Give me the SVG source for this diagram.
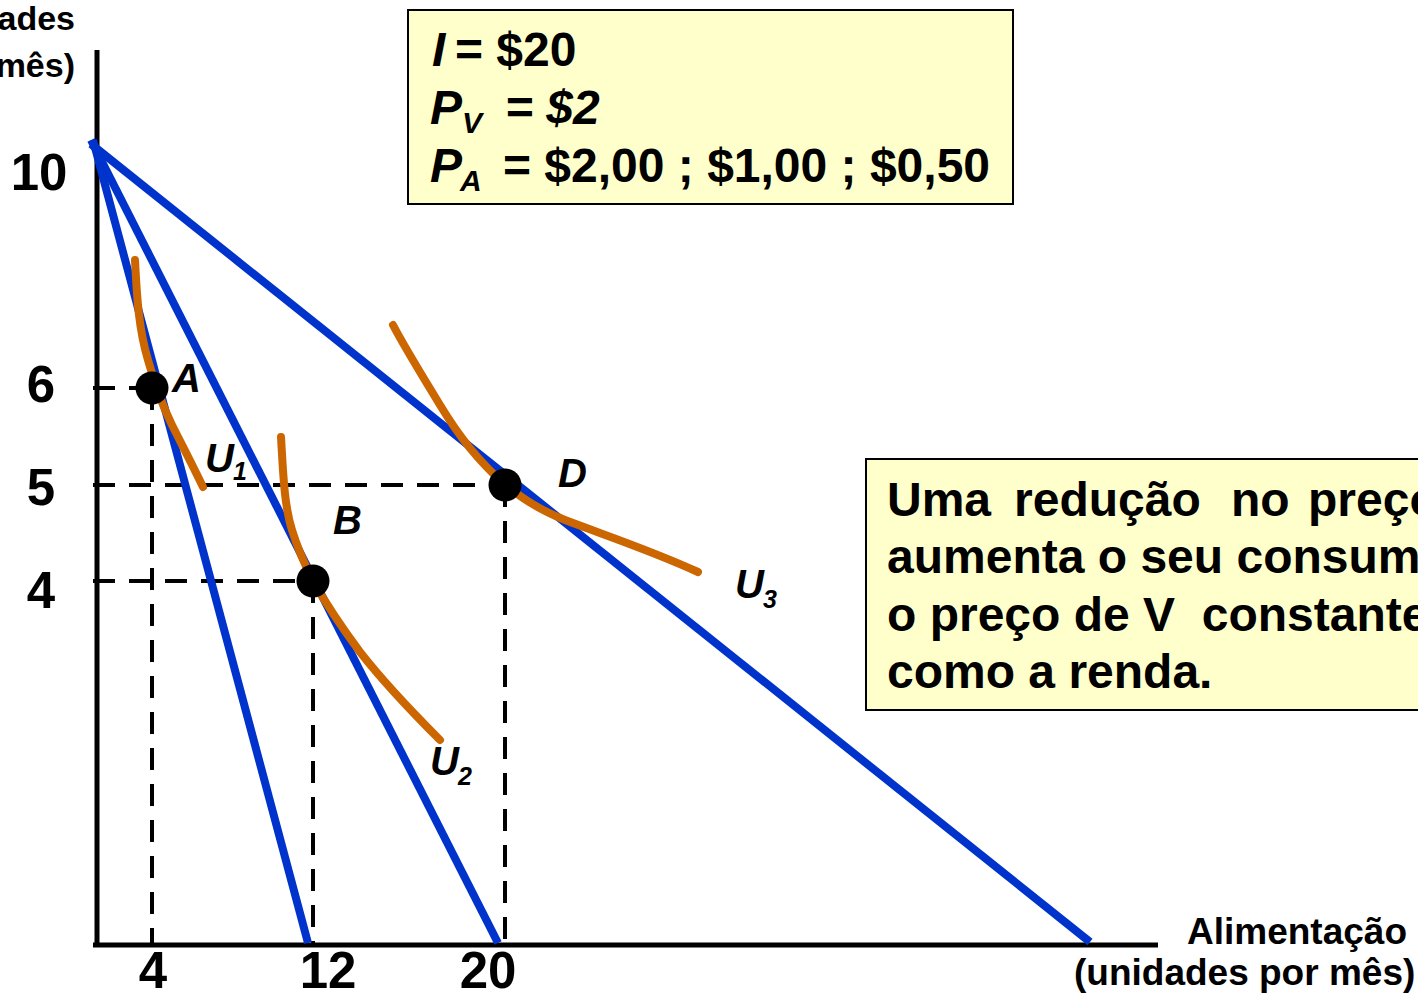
<svg xmlns="http://www.w3.org/2000/svg" width="1418" height="995" viewBox="0 0 1418 995">
<style>
text{font-family:"Liberation Sans",Arial,sans-serif;font-weight:bold;fill:#000}
.it{font-style:italic}
.axis{stroke:#000;stroke-width:5;fill:none}
.dash{stroke:#000;stroke-width:4;stroke-dasharray:22 14;fill:none}
.budget{stroke:#0033CC;stroke-width:8;fill:none}
.ic{stroke:#CC6600;stroke-width:8;fill:none;stroke-linecap:round;stroke-linejoin:round}
.box{fill:#FFFFCC;stroke:#000;stroke-width:2}
.tick{font-size:51px;text-anchor:middle}
.lbl{font-size:40px;font-style:italic}
.sub{font-size:25px;font-style:italic}
.note{font-size:48px}
</style>
<rect width="1418" height="995" fill="#fff"/>
<g id="axes">
<line class="axis" x1="97" y1="50" x2="97" y2="947"/>
<line class="axis" x1="93" y1="945" x2="1158" y2="945"/>
</g>
<g id="connectors">
<path class="dash" d="M93 388H152M93 485H505M93 581H313"/>
<path class="dash" d="M152 388V945M313 581V945M505 485V945"/>
<line class="budget" x1="93" y1="140" x2="308" y2="943"/>
<line class="budget" x1="91" y1="140" x2="498" y2="943"/>
<line class="budget" x1="91" y1="144" x2="1090" y2="942"/>
</g>
<g id="U1">
<path class="ic" d="M135 260 C137 300 139 330 148 360 C155 385 162 405 172 425 C182 445 193 466 203 487"/>
</g>
<g id="U2">
<path class="ic" d="M281 437 C283 470 284 505 292 530 C298 550 305 565 313 581 C325 602 340 625 360 652 C385 684 412 712 440 740"/>
</g>
<g id="U3">
<path class="ic" d="M393 325 C405 348 420 372 440 405 C460 438 478 460 505 485 C525 500 540 510 565 520 C610 537 655 552 698 572"/>
</g>
<g id="A"><circle cx="152" cy="388" r="16.5"/><text class="lbl" x="172" y="392">A</text></g>
<g id="B"><circle cx="313" cy="581" r="16.5"/><text class="lbl" x="333" y="534">B</text></g>
<g id="D"><circle cx="505" cy="485" r="16.5"/><text class="lbl" x="558" y="487">D</text></g>
<g id="labels">
<text class="lbl" x="205" y="472">U</text><text class="sub" x="233" y="480">1</text>
<text class="lbl" x="430" y="775">U</text><text class="sub" x="458" y="785">2</text>
<text class="lbl" x="735" y="598">U</text><text class="sub" x="763" y="608">3</text>
<text class="tick" x="39" y="190">10</text>
<text class="tick" x="41" y="402">6</text>
<text class="tick" x="41" y="505">5</text>
<text class="tick" x="41" y="608">4</text>
<text class="tick" x="153" y="988">4</text>
<text class="tick" x="328" y="988">12</text>
<text class="tick" x="488" y="988">20</text>
<text x="75" y="30" font-size="34" text-anchor="end">ades</text>
<text x="75" y="77" font-size="34" text-anchor="end">mês)</text>
<text x="1187" y="944" font-size="37">Alimentação</text>
<text x="1074" y="985" font-size="37">(unidades por mês)</text>
</g>
<g id="params">
<rect class="box" x="408" y="10" width="605" height="194"/>
<text x="432" y="66" font-size="48"><tspan class="it">I</tspan><tspan x="455">= $20</tspan></text>
<text class="it" x="430" y="124" font-size="48">P</text>
<text class="it" x="462" y="133" font-size="30">V</text>
<text class="it" x="505" y="124" font-size="48">= $2</text>
<text class="it" x="430" y="182" font-size="48">P</text>
<text class="it" x="460" y="191" font-size="30">A</text>
<text x="503" y="182" font-size="48">= $2,00 ; $1,00 ; $0,50</text>
</g>
<g id="note">
<rect class="box" x="866" y="459" width="570" height="251"/>
<text class="note" x="887" y="516"><tspan>Uma</tspan><tspan x="1014">redução</tspan><tspan x="1231">no</tspan><tspan x="1308">preço</tspan></text>
<text class="note" x="887" y="573">aumenta o seu consumo</text>
<text class="note" x="887" y="631" xml:space="preserve">o preço de V  constante</text>
<text class="note" x="887" y="688">como a renda.</text>
</g>
</svg>
